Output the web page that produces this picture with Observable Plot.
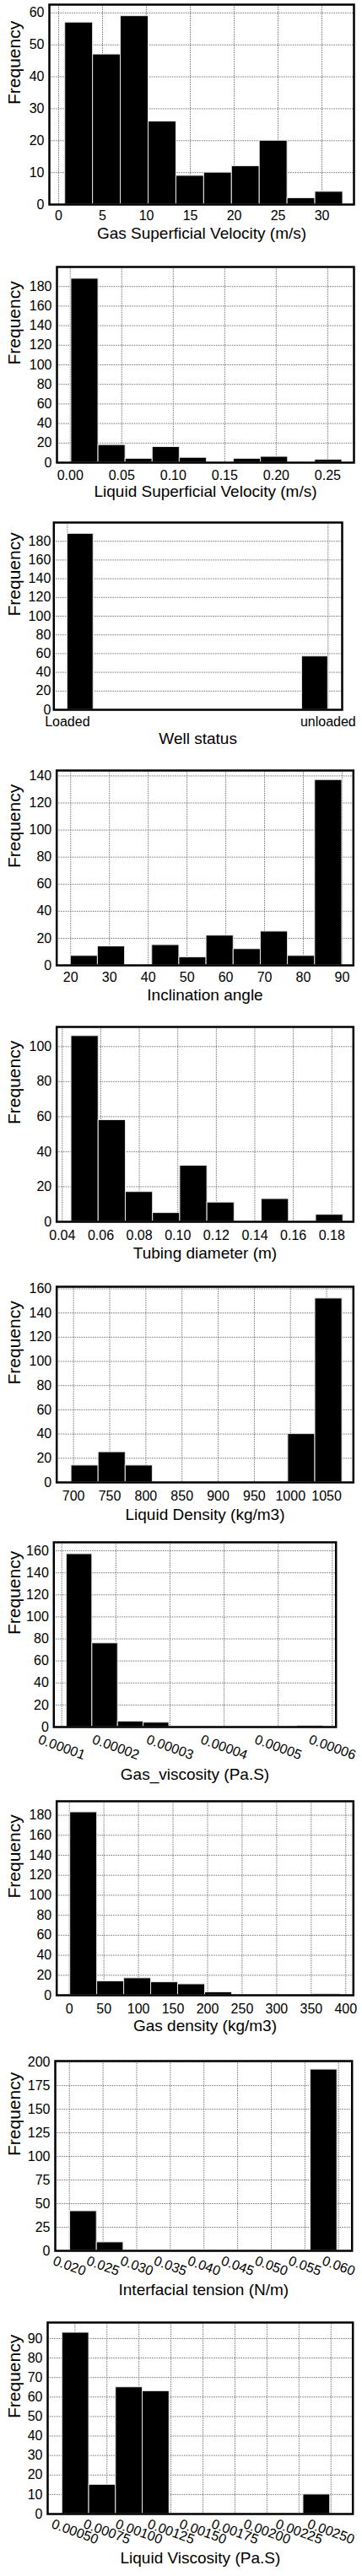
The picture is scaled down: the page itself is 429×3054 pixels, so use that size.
<!DOCTYPE html>
<html><head><meta charset="utf-8">
<script src="https://cdn.jsdelivr.net/npm/d3@7"></script>
<script src="https://cdn.jsdelivr.net/npm/@observablehq/plot@0.6"></script>
<style>
body{margin:0;background:#fff;}
#root{position:relative;width:429px;height:3054px;overflow:hidden;background:#fff}
#root svg{position:absolute;left:0}
</style></head><body><div id="root"></div>
<script>
// ---- data (counts per histogram bin, bin range [first edge, last edge]) ----
const gasVelTitle = "Gas Superficial Velocity (m/s)";
const gasVelCounts = [57, 47, 59, 26, 9, 10, 12, 20, 2, 4];
const gasVelRange = [0.74, 32.4];
const gasVelTicks = [0, 5, 10, 15, 20, 25, 30];

const liqVelTitle = "Liquid Superficial Velocity (m/s)";
const liqVelCounts = [188, 18, 4, 16, 5, 0, 4, 6, 0, 3];
const liqVelRange = [0.001, 0.264];
const liqVelTicks = [0, 0.05, 0.10, 0.15, 0.20, 0.25];

const wellTitle = "Well status";
const wellCategories = ["Loaded", "unloaded"];
const wellCounts = [188, 0, 0, 0, 0, 0, 0, 0, 0, 57];
const wellRange = [0, 1];
const wellTicks = [0, 1];

const inclTitle = "Inclination angle";
const inclCounts = [7, 14, 0, 15, 6, 22, 12, 25, 7, 137];
const inclRange = [20, 90];
const inclTicks = [20, 30, 40, 50, 60, 70, 80, 90];

const tubTitle = "Tubing diameter (m)";
const tubCounts = [106, 58, 17, 5, 32, 11, 0, 13, 0, 4];
const tubRange = [0.0447, 0.1859];
const tubTicks = [0.04, 0.06, 0.08, 0.10, 0.12, 0.14, 0.16, 0.18];

const liqDenTitle = "Liquid Density (kg/m3)";
const liqDenCounts = [14, 25, 14, 0, 0, 0, 0, 0, 40, 152];
const liqDenRange = [697, 1071.6];
const liqDenTicks = [700, 750, 800, 850, 900, 950, 1000, 1050];

const gasVisTitle = "Gas_viscosity (Pa.S)";
const gasVisCounts = [157, 76, 5, 4, 0, 0, 0, 0, 0, 1];
const gasVisRange = [1.09e-5, 5.83e-5];
const gasVisTicks = [0.00001, 0.00002, 0.00003, 0.00004, 0.00005, 0.00006];

const gasDenTitle = "Gas density (kg/m3)";
const gasDenCounts = [183, 14, 17, 13, 11, 3, 0, 0, 0, 1];
const gasDenRange = [1.2, 391.5];
const gasDenTicks = [0, 50, 100, 150, 200, 250, 300, 350, 400];

const iftTitle = "Interfacial tension (N/m)";
const iftCounts = [42, 9, 0, 0, 0, 0, 0, 0, 0, 192];
const iftRange = [0.0201, 0.0598];
const iftTicks = [0.020, 0.025, 0.030, 0.035, 0.040, 0.045, 0.050, 0.055, 0.060];

const liqVisTitle = "Liquid Viscosity (Pa.S)";
const liqVisCounts = [93, 15, 65, 63, 0, 0, 0, 0, 0, 10];
const liqVisRange = [0.000401, 0.002493];
const liqVisTicks = [0.0005, 0.00075, 0.0010, 0.00125, 0.0015, 0.00175, 0.0020, 0.00225, 0.0025];

// ---- panel layout / scale settings ----
const FONT = '"Liberation Sans", Arial, Helvetica, sans-serif';
const panels = [
  {title: gasVelTitle, counts: gasVelCounts, range: gasVelRange, xTicks: gasVelTicks, fmt: d3.format("d"),
   xDomain: [-1.06, 33.65], yMax: 62.6, yTicks: d3.range(0, 61, 10),
   svgTop: 0, svgH: 300, frame: [5, 242, 58, 419], tickDy: 13.5, titleDy: 34, rotate: 0},
  {title: liqVelTitle, counts: liqVelCounts, range: liqVelRange, xTicks: liqVelTicks, fmt: d3.format(".2f"),
   xDomain: [-0.0129, 0.2755], yMax: 200, yTicks: d3.range(0, 181, 20),
   svgTop: 300, svgH: 300, frame: [316, 548, 67, 419], tickDy: 15.3, titleDy: 34.5, rotate: 0},
  {title: wellTitle, counts: wellCounts, range: wellRange, xTicks: wellTicks, fmt: (d, i) => wellCategories[i],
   xDomain: [-0.052, 1.054], yMax: 200, yTicks: d3.range(0, 181, 20),
   svgTop: 600, svgH: 305, frame: [619, 841, 63.3, 405], tickDy: 14.8, titleDy: 34.5, rotate: 0, yPad: 3.5},
  {title: inclTitle, counts: inclCounts, range: inclRange, xTicks: inclTicks, fmt: d3.format("d"),
   xDomain: [16.4, 92.9], yMax: 144, yTicks: d3.range(0, 141, 20),
   svgTop: 905, svgH: 300, frame: [913, 1144, 66.7, 418.3], tickDy: 14.8, titleDy: 35.7, rotate: 0},
  {title: tubTitle, counts: tubCounts, range: tubRange, xTicks: tubTicks, fmt: d3.format(".2f"),
   xDomain: [0.0371, 0.1912], yMax: 111.2, yTicks: d3.range(0, 101, 20),
   svgTop: 1205, svgH: 300, frame: [1217, 1448, 66.7, 418.3], tickDy: 16.5, titleDy: 37.5, rotate: 0},
  {title: liqDenTitle, counts: liqDenCounts, range: liqDenRange, xTicks: liqDenTicks, fmt: d3.format("d"),
   xDomain: [676.7, 1087], yMax: 161.7, yTicks: d3.range(0, 161, 20),
   svgTop: 1505, svgH: 310, frame: [1525, 1757, 66.7, 418.3], tickDy: 16.7, titleDy: 38.5, rotate: 0},
  {title: gasVisTitle, counts: gasVisCounts, range: gasVisRange, xTicks: gasVisTicks, fmt: d3.format(".5f"),
   xDomain: [0.854e-5, 6.068e-5], yMax: 167.7, yTicks: d3.range(0, 161, 20),
   svgTop: 1815, svgH: 310, frame: [1828, 2047, 63.3, 397.7], tickDy: 24, titleDy: 56, rotate: 20},
  {title: gasDenTitle, counts: gasDenCounts, range: gasDenRange, xTicks: gasDenTicks, fmt: d3.format("d"),
   xDomain: [-18.3, 411], yMax: 194, yTicks: d3.range(0, 181, 20),
   svgTop: 2125, svgH: 300, frame: [2135, 2365, 66.7, 418.3], tickDy: 16.2, titleDy: 36, rotate: 0},
  {title: iftTitle, counts: iftCounts, range: iftRange, xTicks: iftTicks, fmt: d3.format(".3f"),
   xDomain: [0.0179, 0.0620], yMax: 201, yTicks: d3.range(0, 201, 25),
   svgTop: 2425, svgH: 310, frame: [2443, 2668, 65, 416.7], tickDy: 18, titleDy: 46, rotate: 20},
  {title: liqVisTitle, counts: liqVisCounts, range: liqVisRange, xTicks: liqVisTicks, fmt: d3.format(".5f"),
   xDomain: [0.000287, 0.002671], yMax: 98.2, yTicks: d3.range(0, 91, 10),
   svgTop: 2735, svgH: 319, frame: [2753, 2980, 56, 417.7], tickDy: 21, titleDy: 52.5, rotate: 20}
];

const root = document.getElementById("root");
const gridStyle = {stroke: "#666", strokeOpacity: 1, strokeWidth: 0.9, strokeDasharray: "1.5,1.2"};

for (const p of panels) {
  const n = p.counts.length;
  const [lo, hi] = p.range;
  const bins = p.counts.map((c, i) => ({x1: lo + (hi - lo) * i / n, x2: lo + (hi - lo) * (i + 1) / n, count: c}))
    .filter(b => b.count > 0);
  const [fTop, fBottom, fLeft, fRight] = p.frame;
  const marginTop = fTop - p.svgTop;
  const marginBottom = p.svgTop + p.svgH - fBottom;
  const marginLeft = fLeft;
  const marginRight = 429 - fRight;
  const chart = Plot.plot({
    width: 429,
    height: p.svgH,
    marginTop, marginBottom, marginLeft, marginRight,
    style: {fontFamily: FONT, background: "transparent", color: "black"},
    x: {domain: p.xDomain, axis: null},
    y: {domain: [0, p.yMax], axis: null},
    marks: [
      Plot.gridX(p.xTicks, gridStyle),
      Plot.gridY(p.yTicks, gridStyle),
      Plot.rect(bins, {x1: "x1", x2: "x2", y1: 0, y2: "count", fill: "black", stroke: "#e6e6e6", strokeWidth: 1}),
      Plot.frame({stroke: "black", strokeWidth: 2.5}),
      Plot.axisY(p.yTicks, {tickSize: 0, tickPadding: p.yPad ?? 6, fontSize: 16, label: null, tickFormat: d3.format("d")}),
      Plot.text(p.xTicks, {x: d => d, frameAnchor: "bottom", dy: p.tickDy, text: (d, i) => p.fmt(d, i),
        fontSize: 16, rotate: p.rotate, textAnchor: "middle", lineAnchor: "middle"}),
      Plot.text([p.title], {frameAnchor: "bottom", dy: p.titleDy, fontSize: 19, lineAnchor: "middle"}),
      Plot.text(["Frequency"], {frameAnchor: "left", dx: 17 - marginLeft, rotate: -90, fontSize: 21, lineAnchor: "middle"})
    ]
  });
  chart.style.top = p.svgTop + "px";
  root.appendChild(chart);
}
</script>
</body></html>
